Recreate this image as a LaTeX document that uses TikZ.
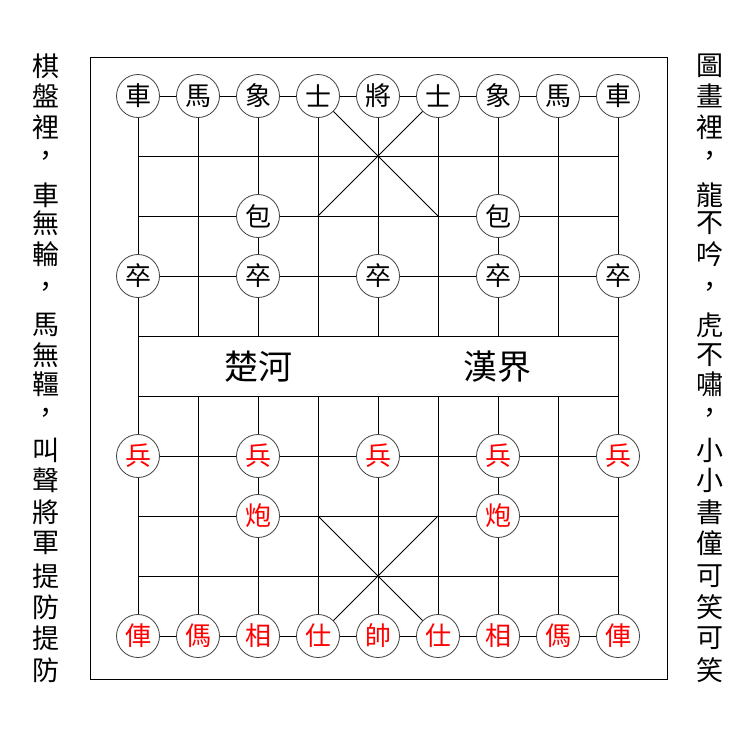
\documentclass[tikz,border=0pt]{standalone}
\usepackage{fontspec}
\newfontfamily\cjk{Noto Sans CJK TC}
\begin{document}
\begin{tikzpicture}[x=1pt,y=-1pt,
  gridline/.style={line width=0.9pt, draw=black},
  piece/.style={circle, draw=black!75, fill=white, line width=0.8pt, minimum size=43pt, inner sep=0pt, font=\cjk\fontsize{26}{26}\selectfont},
  redpiece/.style={piece, text=red},
  rivertext/.style={inner sep=0pt, font=\cjk\fontsize{34}{34}\selectfont},
  sidetext/.style={inner sep=0pt, font=\cjk\fontsize{27}{27}\selectfont}]
\useasboundingbox (0,0) rectangle (753,732);
% frame
\coordinate (f1) at (90,57);
\coordinate (f2) at (667,679);
\draw[gridline] (f1) rectangle (f2);
% grid points
\foreach \c in {0,...,8}
  \foreach \r in {0,...,9}
    \coordinate (p\c-\r) at ({138+60*\c},{96+60*\r});
% horizontal lines
\foreach \r in {0,...,9}
  \draw[gridline] (p0-\r) -- (p8-\r);
% vertical lines
\draw[gridline] (p0-0) -- (p0-9);
\draw[gridline] (p8-0) -- (p8-9);
\foreach \c in {1,...,7}{
  \draw[gridline] (p\c-0) -- (p\c-4);
  \draw[gridline] (p\c-5) -- (p\c-9);
}
% palaces
\draw[gridline] (p3-0) -- (p5-2);
\draw[gridline] (p5-0) -- (p3-2);
\draw[gridline] (p3-7) -- (p5-9);
\draw[gridline] (p5-7) -- (p3-9);
% river
\node[rivertext] (chu) at (258,367) {楚河};
\node[rivertext] (han) at (497,367) {漢界};
% black pieces
\foreach \c/\t in {0/車,1/馬,2/象,3/士,4/將,5/士,6/象,7/馬,8/車}
  \node[piece] (bk\c) at (p\c-0) {\t};
\node[piece] (bc1) at (p2-2) {包};
\node[piece] (bc2) at (p6-2) {包};
\foreach \c in {0,2,4,6,8}
  \node[piece] (bz\c) at (p\c-3) {卒};
% red pieces
\foreach \c/\t in {0/俥,1/傌,2/相,3/仕,4/帥,5/仕,6/相,7/傌,8/俥}
  \node[redpiece] (rk\c) at (p\c-9) {\t};
\node[redpiece] (rc1) at (p2-7) {炮};
\node[redpiece] (rc2) at (p6-7) {炮};
\foreach \c in {0,2,4,6,8}
  \node[redpiece] (rb\c) at (p\c-6) {兵};
% side texts
\foreach \y/\t [count=\i] in {66/棋,96/盤,127/裡,158/，,195/車,223/無,254/輪,289/，,325/馬,355/無,384/韁,415/，,450/叫,480/聲,512/將,543/軍,576/提,607/防,638/提,670/防}
  \node[sidetext] (l\i) at (46,\y) {\t};
\foreach \y/\t [count=\i] in {66/圖,96/畫,127/裡,158/，,195/龍,223/不,254/吟,289/，,325/虎,355/不,384/嘯,415/，,450/小,480/小,512/書,543/僮,576/可,607/笑,638/可,670/笑}
  \node[sidetext] (r\i) at (710,\y) {\t};
\end{tikzpicture}
\end{document}
